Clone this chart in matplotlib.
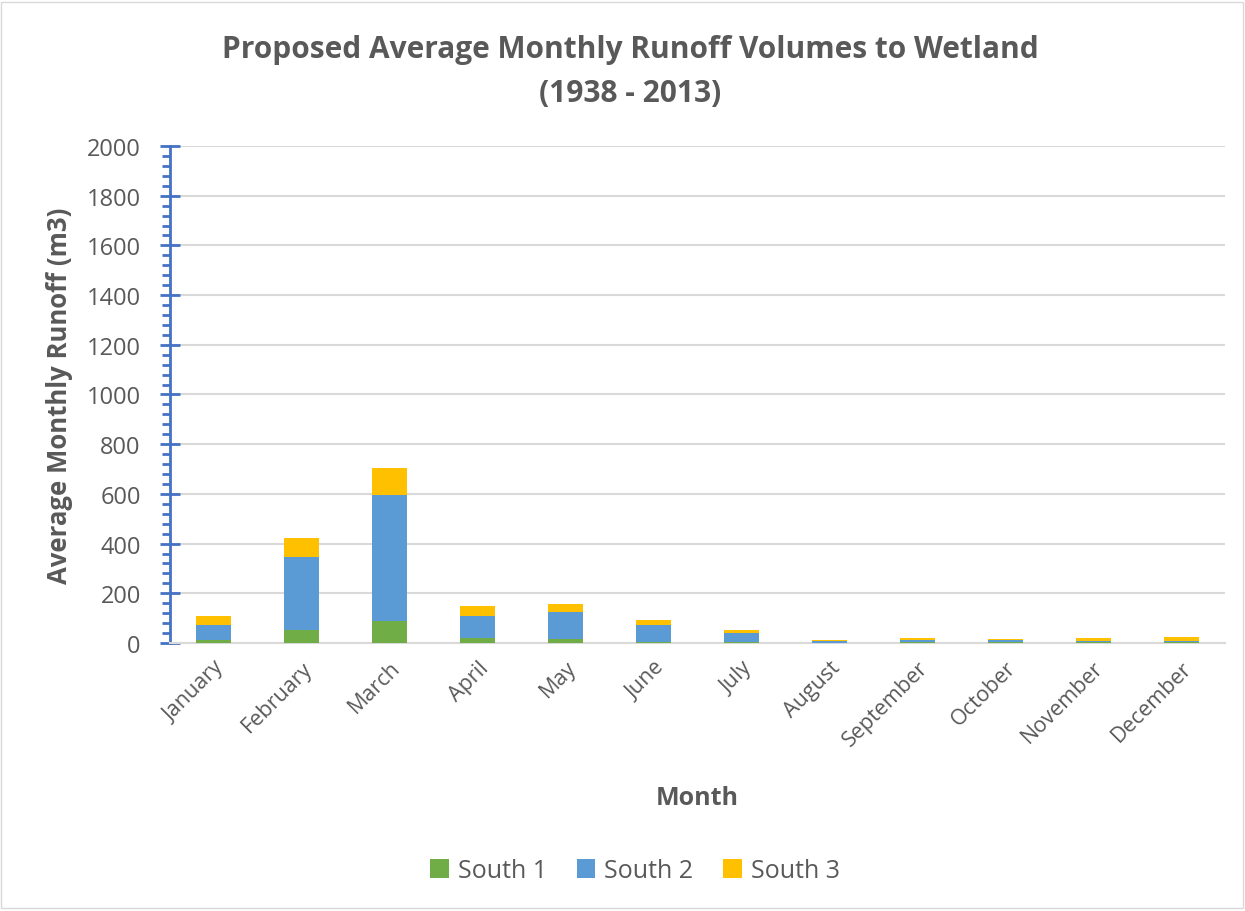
import matplotlib.pyplot as plt
from matplotlib.ticker import MultipleLocator
from matplotlib.patches import Rectangle

months = ['January', 'February', 'March', 'April', 'May', 'June', 'July',
          'August', 'September', 'October', 'November', 'December']
south1 = [10, 54, 89, 20, 14, 4, 4, 1, 3, 2, 2, 2]
south2 = [64, 293, 507, 88, 111, 69, 37, 6, 9, 8, 6, 6]
south3 = [36, 77, 108, 42, 33, 20, 11, 6, 7, 7, 10, 15]

plt.rcParams['font.family'] = ['Open Sans', 'DejaVu Sans']
gray = '#595959'

fig = plt.figure(figsize=(12.45, 9.12), dpi=100)
ax = fig.add_axes([0.1365, 0.2939, 0.8475, 0.5449])

x = range(len(months))
bottom2 = [a for a in south1]
bottom3 = [a + b for a, b in zip(south1, south2)]
w = 0.4
ax.bar(x, south1, w, color='#70AD47', label='South 1', zorder=3)
ax.bar(x, south2, w, bottom=bottom2, color='#5B9BD5', label='South 2', zorder=3)
ax.bar(x, south3, w, bottom=bottom3, color='#FFC000', label='South 3', zorder=3)

ax.set_xlim(-0.5, len(months) - 0.5)
ax.set_ylim(0, 2000)
ax.yaxis.set_major_locator(MultipleLocator(200))
ax.yaxis.set_minor_locator(MultipleLocator(40))
ax.grid(axis='y', color='#D9D9D9', linewidth=1.5, zorder=0)

for s in ['top', 'right']:
    ax.spines[s].set_visible(False)
ax.spines['left'].set_color('#4472C4')
ax.spines['left'].set_linewidth(2)
ax.spines['bottom'].set_color('#D9D9D9')
ax.spines['bottom'].set_linewidth(1.5)

ax.tick_params(axis='y', which='major', direction='inout', length=14, width=2,
               color='#4472C4', labelsize=17, labelcolor=gray, pad=14)
ax.tick_params(axis='y', which='minor', direction='out', length=6, width=2, color='#4472C4')
ax.tick_params(axis='x', length=0, labelsize=15.5, labelcolor=gray, pad=10)

ax.set_xticks(list(x))
ax.set_xticklabels(months, rotation=45, ha='right', rotation_mode='anchor')

ax.set_ylabel('Average Monthly Runoff (m3)', fontsize=18.5, fontweight='bold', color=gray, labelpad=10)
ax.set_xlabel('Month', fontsize=18, fontweight='bold', color=gray, labelpad=25)

fig.text(0.506, 0.921, 'Proposed Average Monthly Runoff Volumes to Wetland\n(1938 - 2013)',
         ha='center', va='center', fontsize=21.5, fontweight='bold', color=gray, linespacing=1.6)

fig.legend(loc='center', bbox_to_anchor=(0.51, 0.044), ncol=3, frameon=False,
           fontsize=18, labelcolor=gray, handlelength=0.75, handleheight=0.75,
           columnspacing=1.2, handletextpad=0.35)

fig.patches.append(Rectangle((0.001, 0.003), 0.997, 0.994, transform=fig.transFigure,
                             fill=False, edgecolor='#D9D9D9', linewidth=1))

fig.savefig('out.png', dpi=100)
